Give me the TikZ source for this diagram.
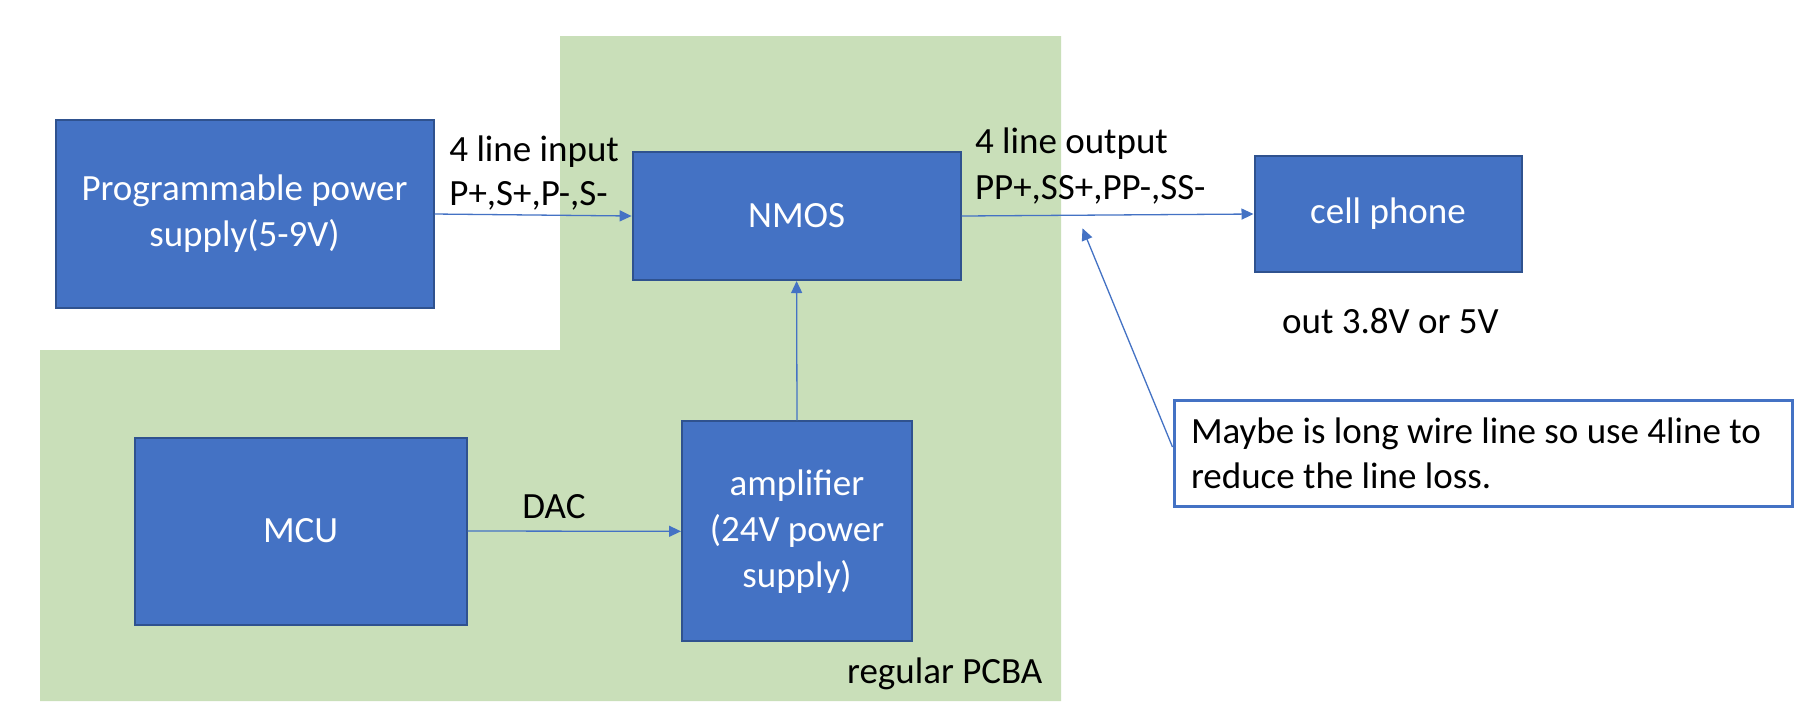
\documentclass[tikz,border=0pt]{standalone}
\usepackage{fontspec}
\setmainfont{Carlito}
\usetikzlibrary{arrows.meta}
\definecolor{boxblue}{HTML}{4472C4}
\definecolor{boxedge}{HTML}{2F528F}
\definecolor{pcbgreen}{HTML}{C9DFB9}
\tikzset{
  blockbox/.style={draw=boxedge, line width=1pt, fill=boxblue, text=white, align=center,
    font=\fontsize{18.5pt}{23pt}\selectfont, inner sep=0pt},
  conn/.style={draw=boxblue, line width=0.65pt, -{Triangle[length=6pt,width=5.5pt]}},
  lbl/.style={font=\fontsize{18.5pt}{23pt}\selectfont, inner sep=0pt, anchor=base west}
}
\begin{document}
\begin{tikzpicture}[x=0.5pt,y=-0.5pt]
\useasboundingbox (0,0) rectangle (1814,720);
\fill[white] (0,0) rectangle (1814,720);
% regular PCBA area
\fill[pcbgreen] (560,36) -- (1061,36) -- (1061,701) -- (40,701) -- (40,350) -- (560,350) -- cycle;
% blocks
\node[blockbox, minimum width=189pt, minimum height=94pt] (pps) at (244.5,214) {Programmable power\\supply(5-9V)};
\node[blockbox, minimum width=164pt, minimum height=64pt] (nmos) at (796.6,216) {NMOS};
\node[blockbox, minimum width=166pt, minimum height=93.5pt] (mcu) at (300.6,531) {MCU};
\node[blockbox, minimum width=115pt, minimum height=110pt] (amp) at (797,531.3) {amplifier\\(24V power\\supply)};
\node[blockbox, minimum width=133.5pt, minimum height=58.3pt] (cell) at (1388,214) {cell phone};
\node[draw=boxblue, line width=1.5pt, fill=white, minimum height=53pt,
  align=flush left, font=\fontsize{18.5pt}{22.5pt}\selectfont, inner ysep=0pt, inner xsep=8.5pt,
  text width=292pt] (note) at (1483,453)
  {Maybe is long wire line so use 4line to\\reduce the line loss.};
% labels
\node[lbl] (inA) at (449,161.6) {4 line input};
\node[lbl] (inB) at (449,205.7) {P+,S+,P-,S-};
\node[lbl] (outA) at (974.6,153.3) {4 line output};
\node[lbl] (outB) at (974.6,199) {PP+,SS+,PP-,SS-};
\node[lbl, anchor=base] (dac) at (554,518.8) {DAC};
\node[lbl] (pcba) at (846.7,683) {regular PCBA};
\node[lbl] (vout) at (1281.8,333.3) {out 3.8V or 5V};
% connectors
\coordinate (tip) at (1082.5,228.3);
\draw[conn] (pps.east) -- (nmos.west);
\draw[conn] (nmos.east) -- (cell.west);
\draw[conn] (amp.north) -- (nmos.south);
\draw[conn] (mcu.east) -- (amp.west);
\draw[conn] ([yshift=3pt]note.west) -- (tip);
\end{tikzpicture}
\end{document}
